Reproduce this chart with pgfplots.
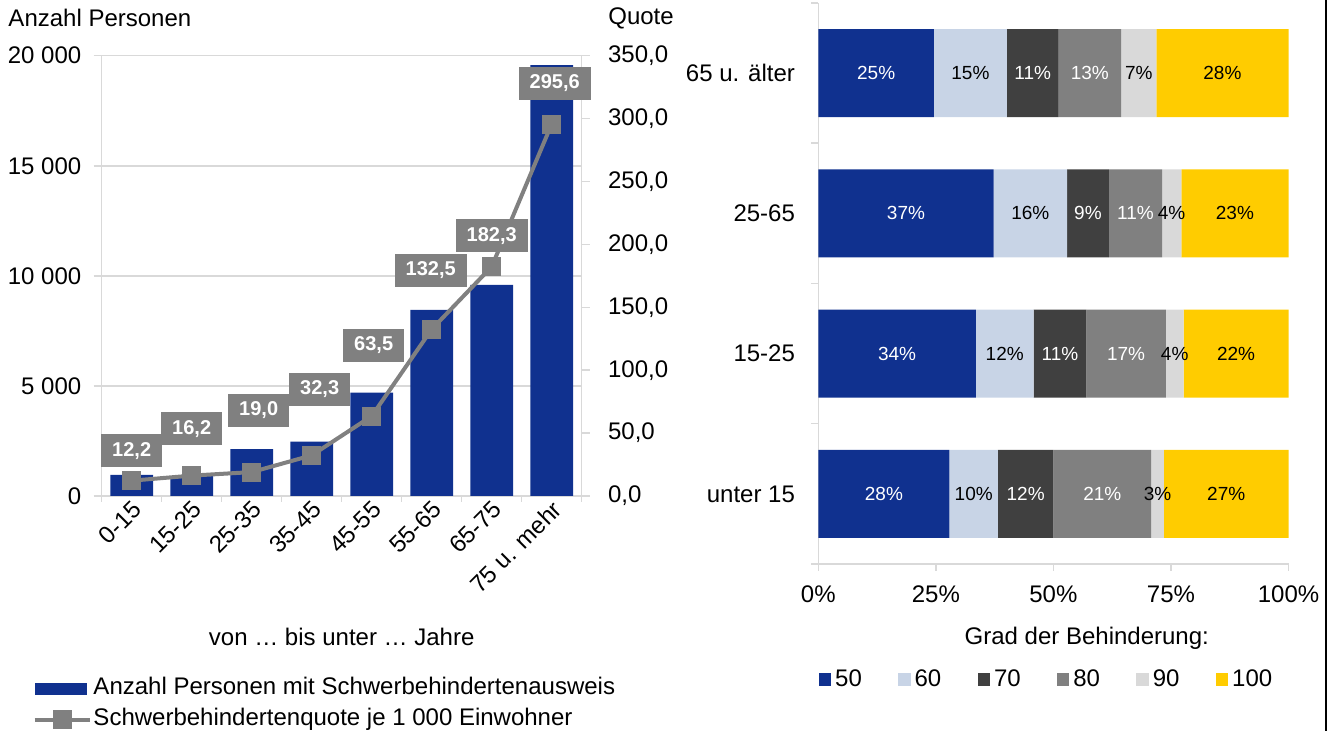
\documentclass[border=0pt]{standalone}
\usepackage{fontspec}
\setmainfont{Liberation Sans}
\usepackage{pgfplots}
\pgfplotsset{compat=1.18}
\usepackage{pgfplotstable}

\definecolor{bblue}{RGB}{16,49,143}
\definecolor{lblue}{RGB}{200,212,230}
\definecolor{dgray}{RGB}{64,64,64}
\definecolor{mgray}{RGB}{128,128,128}
\definecolor{lgray}{RGB}{217,217,217}
\definecolor{yel}{RGB}{255,204,0}
\definecolor{axgray}{RGB}{217,217,217}

\newcommand\tfont{\fontsize{12}{14.4}\selectfont}
\newcommand\lfont{\fontsize{9.5}{11}\selectfont}
\newcommand\bfont{\fontsize{10}{12}\selectfont\bfseries}

% Altersgruppen: Anzahl, Quote, Label, Label-Versatz (pt)
\pgfplotstableread{
x n q lab dy dx
0 954 12.2 12,2 15 0
1 908 16.2 16,2 23.5 0
2 2134 19.0 19,0 31 3.5
3 2470 32.3 32,3 33 4
4 4697 63.5 63,5 35.5 1
5 8455 132.5 132,5 29.5 -0.5
6 9591 182.3 182,3 15.5 0
7 19576 295.6 295,6 20.5 1.5
}\alter

% Grad der Behinderung, je Gruppe (0 = unter 15 ... 3 = 65 u. aelter)
% s = Beginn des Segments, v = Anteil, lab = Beschriftung
\pgfplotstableread{
cat s v lab
0 0 27.9 28
1 0 33.5 34
2 0 37.3 37
3 0 24.6 25
}\gFifty
\pgfplotstableread{
cat s v lab
0 27.9 10.3 10
1 33.5 12.3 12
2 37.3 15.6 16
3 24.6 15.5 15
}\gSixty
\pgfplotstableread{
cat s v lab
0 38.2 11.8 12
1 45.8 11.2 11
2 52.9 8.9 9
3 40.1 11.0 11
}\gSeventy
\pgfplotstableread{
cat s v lab
0 50.0 20.8 21
1 57.0 16.9 17
2 61.8 11.3 11
3 51.1 13.3 13
}\gEighty
\pgfplotstableread{
cat s v lab
0 70.8 2.7 3
1 73.9 3.8 4
2 73.1 4.1 4
3 64.4 7.5 7
}\gNinety
\pgfplotstableread{
cat s v lab
0 73.5 26.5 27
1 77.7 22.3 22
2 77.2 22.8 23
3 71.9 28.1 28
}\gHundred

\pgfplotsset{
  seg/.style={fill=#1, draw=none, forget plot},
  seglab/.style={draw=none, mark=none, forget plot,
    nodes near coords={\pgfplotspointmeta\%},
    point meta=explicit symbolic,
    every node near coord/.append style={anchor=center, font=\lfont, text=#1}},
  sq/.style={legend image code/.code={\fill[##1] (0pt,-3.125pt) rectangle (6.25pt,3.125pt);}},
  barleg/.style={legend image code/.code={\fill[##1] (0pt,-3pt) rectangle (26pt,3pt);}},
  lineleg/.style={legend image code/.code={\draw[mark repeat=2, mark phase=2, ##1]
    plot coordinates {(0pt,0pt) (13.75pt,0pt) (27.5pt,0pt)};}},
  rightbox/.style={at={(409.15pt,-282pt)}, anchor=south west,
    scale only axis, width=235.1pt, height=280.5pt,
    xmin=0, xmax=100, ymin=-0.5, ymax=3.5, clip=false},
}

\begin{document}
\begin{tikzpicture}
\useasboundingbox (0,0) rectangle (667.5pt,-365.5pt);

%% left chart, bars
\begin{axis}[
  at={(50.85pt,-248pt)}, anchor=south west,
  scale only axis, width=240pt, height=220.15pt,
  clip=false,
  xmin=-0.5, xmax=7.5, ymin=0, ymax=20000,
  scaled y ticks=false,
  axis y line*=left, axis x line*=bottom,
  axis line style={axgray, line width=0.75pt},
  ymajorgrids, grid style={axgray, line width=0.75pt},
  ytick={0,5000,10000,15000,20000},
  yticklabels={0,5 000,10 000,15 000,20 000},
  xtick={0,...,7},
  xticklabels={0-15,15-25,25-35,35-45,45-55,55-65,65-75,75 u. mehr},
  minor xtick={-0.5,0.5,...,7.5},
  tick align=outside, major tick length=4pt, minor tick length=3pt,
  tick style={axgray, line width=0.75pt},
  major x tick style={draw=none},
  ticklabel style={font=\tfont},
  xticklabel style={rotate=45, anchor=east, inner sep=0pt, xshift=1.5pt, yshift=-2.5pt},
  yticklabel style={inner sep=0pt, xshift=-6pt},
  xlabel={von … bis unter … Jahre},
  xlabel style={font=\tfont, at={(axis description cs:0.5,-0.32)}, anchor=center},
]
\addplot[ybar, bar width=21.35pt, fill=bblue, draw=none] table[x=x, y=n] {\alter};
\node[anchor=west, font=\tfont, inner sep=0pt] at (axis description cs:-0.195,1.0856) {Anzahl Personen};
\node[anchor=west, font=\tfont, inner sep=0pt] at (axis description cs:1.0548,1.0856) {Quote};
\end{axis}

%% left chart, quota line
\begin{axis}[
  at={(50.85pt,-248pt)}, anchor=south west,
  scale only axis, width=240pt, height=220.15pt,
  clip=false,
  xmin=-0.5, xmax=7.5, ymin=0, ymax=350,
  axis y line*=right, axis x line=none,
  axis line style={axgray, line width=0.75pt},
  ytick={0,50,...,350},
  yticklabels={{0,0},{50,0},{100,0},{150,0},{200,0},{250,0},{300,0},{350,0}},
  tick align=outside, major tick length=4pt,
  tick style={axgray, line width=0.75pt},
  ticklabel style={font=\tfont},
  yticklabel style={inner sep=0pt, xshift=9pt},
  legend style={at={(axis description cs:-0.145,-0.411)}, anchor=north west,
    draw=none, fill=none, inner sep=0pt, row sep=4pt, column sep=1pt,
    nodes={inner sep=0pt, text height=8.8pt, text depth=2.7pt, font=\tfont}},
  legend cell align=left,
]
\addlegendimage{barleg, fill=bblue, draw=none}
\addlegendentry{Anzahl Personen mit Schwerbehindertenausweis}
\addlegendimage{lineleg, mgray, line width=2pt, mark=square*, mark size=3.75pt,
  mark options={fill=mgray, draw=none}}
\addlegendentry{Schwerbehindertenquote je 1 000 Einwohner}
\addplot[mgray, line width=2pt, mark=square*, mark size=3.75pt,
  mark options={fill=mgray, draw=none}, forget plot,
  nodes near coords, point meta=explicit symbolic,
  visualization depends on={\thisrow{dy} \as \lbdy},
  visualization depends on={\thisrow{dx} \as \lbdx},
  every node near coord/.append style={anchor=center, fill=mgray, text=white,
    font=\bfont, inner xsep=5.5pt, inner ysep=0pt, minimum height=16.5pt,
    yshift=\lbdy*1pt, xshift=\lbdx*1pt}]
  table[x=x, y=q, meta=lab] {\alter};
\end{axis}

%% right chart, stacked shares
\begin{axis}[
  rightbox,
  xbar stacked, bar width=44pt,
  axis x line*=bottom, axis y line*=left,
  axis line style={axgray, line width=0.75pt},
  ytick={0,1,2,3},
  yticklabels={unter 15,15-25,25-65,65 u. älter},
  minor ytick={-0.5,0.5,1.5,2.5,3.5},
  major y tick style={draw=none},
  xtick={0,25,50,75,100},
  xticklabels={0\%,25\%,50\%,75\%,100\%},
  tick align=outside, major tick length=3.5pt, minor tick length=3.5pt,
  tick style={axgray, line width=0.75pt},
  ticklabel style={font=\tfont},
  yticklabel style={inner sep=0pt, xshift=-8pt},
  xticklabel style={inner sep=0pt, yshift=-7pt},
  legend columns=6,
  legend style={at={(axis description cs:0,-0.206)}, anchor=west,
    draw=none, fill=none, inner sep=0pt, column sep=0pt,
    /tikz/every odd column/.append style={column sep=2pt},
    nodes={inner sep=0pt, text width=31.45pt, align=left, font=\tfont}},
]
\addplot[seg=bblue] table[x=v, y=cat] {\gFifty};
\addplot[seg=lblue] table[x=v, y=cat] {\gSixty};
\addplot[seg=dgray] table[x=v, y=cat] {\gSeventy};
\addplot[seg=mgray] table[x=v, y=cat] {\gEighty};
\addplot[seg=lgray] table[x=v, y=cat] {\gNinety};
\addplot[seg=yel] table[x=v, y=cat] {\gHundred};
\addlegendimage{sq, fill=bblue, draw=none}\addlegendentry{50}
\addlegendimage{sq, fill=lblue, draw=none}\addlegendentry{60}
\addlegendimage{sq, fill=dgray, draw=none}\addlegendentry{70}
\addlegendimage{sq, fill=mgray, draw=none}\addlegendentry{80}
\addlegendimage{sq, fill=lgray, draw=none}\addlegendentry{90}
\addlegendimage{sq, fill=yel, draw=none}\addlegendentry{100}
\node[font=\tfont, inner sep=0pt] at (axis description cs:0.571,-0.132) {Grad der Behinderung:};
\end{axis}

%% right chart, segment labels
\begin{axis}[rightbox, hide axis]
\addplot[seglab=white] table[x expr=\thisrow{s}+0.5*\thisrow{v}, y=cat, meta=lab] {\gFifty};
\addplot[seglab=black] table[x expr=\thisrow{s}+0.5*\thisrow{v}, y=cat, meta=lab] {\gSixty};
\addplot[seglab=white] table[x expr=\thisrow{s}+0.5*\thisrow{v}, y=cat, meta=lab] {\gSeventy};
\addplot[seglab=white] table[x expr=\thisrow{s}+0.5*\thisrow{v}, y=cat, meta=lab] {\gEighty};
\addplot[seglab=black] table[x expr=\thisrow{s}+0.5*\thisrow{v}, y=cat, meta=lab] {\gNinety};
\addplot[seglab=black] table[x expr=\thisrow{s}+0.5*\thisrow{v}, y=cat, meta=lab] {\gHundred};
\end{axis}

\draw[black, line width=0.75pt] (663pt,0pt) -- (663pt,-365.5pt);
\end{tikzpicture}
\end{document}
